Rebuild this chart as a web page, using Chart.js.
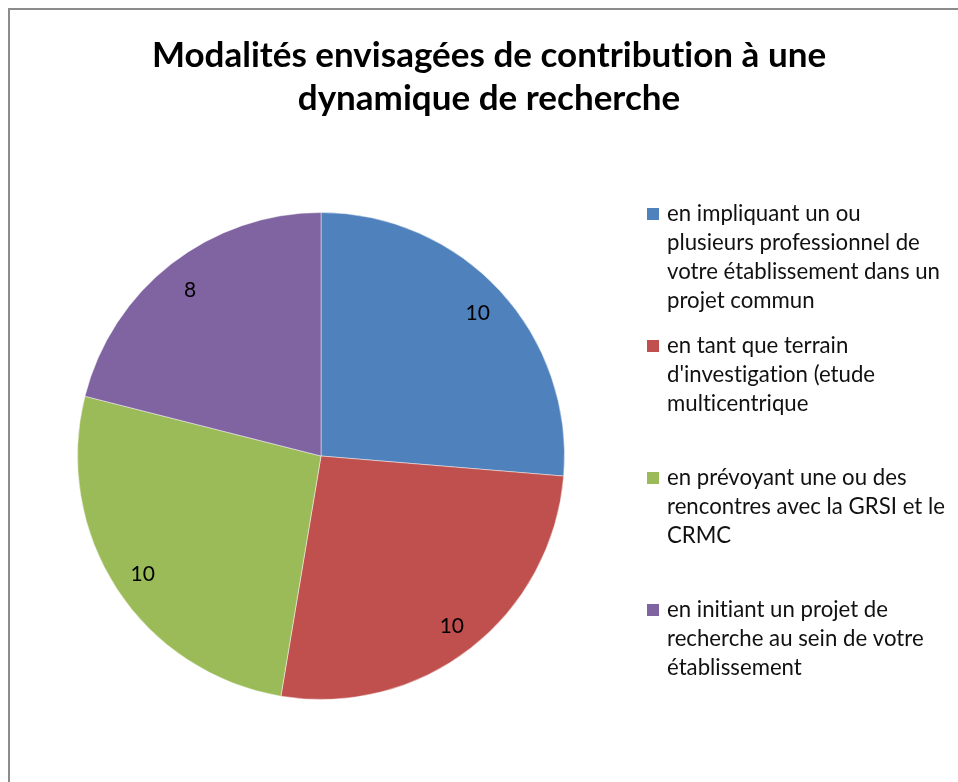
<!DOCTYPE html>
<html>
<head>
<meta charset="utf-8">
<script src="https://cdn.jsdelivr.net/npm/chart.js@4.4.1/dist/chart.umd.min.js"></script>
<style>
  html, body { margin: 0; padding: 0; background: #fff; overflow: hidden; }
  #wrap { position: relative; width: 958px; height: 782px; }
  #frame { position: absolute; left: 8px; top: 8px; width: 1200px; height: 1200px;
           border-left: 2px solid #8c8c8c; border-top: 2px solid #8c8c8c; pointer-events: none; }
  canvas { position: absolute; left: 0; top: 0; font-variant-ligatures: none; }
</style>
</head>
<body>
<div id="wrap">
  <canvas id="pie" width="958" height="782"></canvas>
  <div id="frame"></div>
</div>
<script>
// chart data
const titleLines = ['Modalités envisagées de contribution à une', 'dynamique de recherche'];
const categories = [
  'en impliquant un ou plusieurs professionnel de votre établissement dans un projet commun',
  "en tant que terrain d'investigation (etude multicentrique",
  'en prévoyant une ou des rencontres avec la GRSI et le CRMC',
  'en initiant un projet de recherche au sein de votre établissement'
];
// legend lines as wrapped in the picture
const legendLines = [
  ['en impliquant un ou', 'plusieurs professionnel de', 'votre établissement dans un', 'projet commun'],
  ['en tant que terrain', "d'investigation (etude", 'multicentrique'],
  ['en prévoyant une ou des', 'rencontres avec la GRSI et le', 'CRMC'],
  ['en initiant un projet de', 'recherche au sein de votre', 'établissement']
];
const values = [10, 10, 10, 8];
const colors = ['#4F81BD', '#C0504D', '#9BBB59', '#8064A2'];

const FONT = 'Lato, "Liberation Sans", sans-serif';

// no "ti" ligatures, the original font has none
function setFont(ctx, f) {
  ctx.font = f;
  if ('letterSpacing' in ctx) ctx.letterSpacing = '0.01px';
}

// pick a font size so a reference string gets the width seen in the picture
function fitSize(ctx, text, weight, targetWidth) {
  setFont(ctx, weight + ' 100px ' + FONT);
  return 100 * targetWidth / ctx.measureText(text).width;
}

const titlePlugin = {
  id: 'titleText',
  afterDraw(chart) {
    const ctx = chart.ctx;
    ctx.save();
    const size = fitSize(ctx, titleLines[0], 'bold', 674);
    setFont(ctx, 'bold ' + size + 'px ' + FONT);
    ctx.fillStyle = '#000';
    ctx.textAlign = 'center';
    ctx.textBaseline = 'middle';
    titleLines.forEach((t, i) => ctx.fillText(t, 489, 56 + i * 43));
    ctx.restore();
  }
};

const legendPlugin = {
  id: 'sideLegend',
  afterDraw(chart) {
    const ctx = chart.ctx;
    ctx.save();
    const size = fitSize(ctx, legendLines[0][2], 'normal', 273);
    setFont(ctx, size + 'px ' + FONT);
    ctx.textBaseline = 'middle';
    ctx.textAlign = 'left';
    legendLines.forEach((lines, i) => {
      const y0 = 214 + i * 132;
      ctx.fillStyle = colors[i];
      ctx.fillRect(647, y0 - 6, 12, 12);
      ctx.fillStyle = '#111';
      lines.forEach((l, j) => ctx.fillText(l, 667, y0 + j * 29));
    });
    ctx.restore();
  }
};

const valueLabels = {
  id: 'valueLabels',
  afterDatasetsDraw(chart) {
    const ctx = chart.ctx;
    const meta = chart.getDatasetMeta(0);
    ctx.save();
    setFont(ctx, '21px ' + FONT);
    ctx.fillStyle = '#000';
    ctx.textAlign = 'center';
    ctx.textBaseline = 'middle';
    meta.data.forEach((arc, i) => {
      const p = arc.getProps(['x', 'y', 'startAngle', 'endAngle', 'outerRadius'], true);
      const mid = (p.startAngle + p.endAngle) / 2;
      const r = p.outerRadius * 0.875;
      ctx.fillText(String(values[i]), p.x + Math.cos(mid) * r, p.y + Math.sin(mid) * r + 2);
    });
    ctx.restore();
  }
};

new Chart(document.getElementById('pie'), {
  type: 'pie',
  data: {
    labels: categories,
    datasets: [{
      data: values,
      backgroundColor: colors,
      borderColor: 'rgba(255,255,255,0.45)',
      borderWidth: 1
    }]
  },
  options: {
    responsive: false,
    animation: false,
    layout: { padding: { left: 77, right: 393, top: 212, bottom: 82 } },
    plugins: {
      legend: { display: false },
      tooltip: { enabled: false },
      title: { display: false }
    }
  },
  plugins: [titlePlugin, legendPlugin, valueLabels]
});
</script>
</body>
</html>
